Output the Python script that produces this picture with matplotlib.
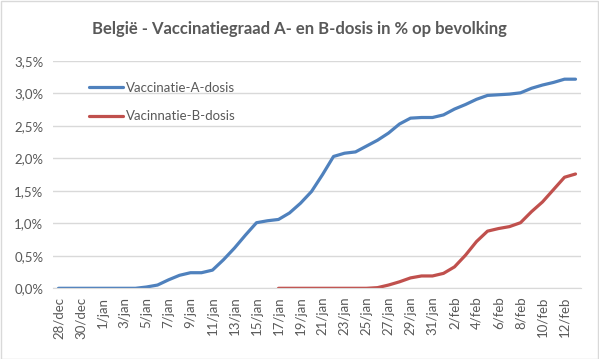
import numpy as np
import matplotlib.pyplot as plt
from matplotlib.patches import Rectangle

plt.rcParams['font.family'] = ['Lato', 'DejaVu Sans']

# Data: daily values from 28/dec to 13/feb (in % of population)
dagen = (['%d/dec' % d for d in range(28, 32)] +
         ['%d/jan' % d for d in range(1, 32)] +
         ['%d/feb' % d for d in range(1, 14)])

dosis_a = [0.00, 0.00, 0.00, 0.00, 0.00, 0.00, 0.00, 0.00,
           0.02, 0.05, 0.13, 0.20, 0.24, 0.24, 0.28, 0.44,
           0.62, 0.82, 1.01, 1.04, 1.06, 1.16, 1.31, 1.49,
           1.75, 2.03, 2.08, 2.10, 2.19, 2.28, 2.39, 2.53,
           2.62, 2.63, 2.63, 2.67, 2.76, 2.83, 2.91, 2.97,
           2.98, 2.99, 3.01, 3.08, 3.13, 3.17, 3.22, 3.22]

dosis_b = [np.nan] * 20 + [
           0.00, 0.00, 0.00, 0.00, 0.00, 0.00, 0.00, 0.00,
           0.00, 0.01, 0.05, 0.10, 0.16, 0.19, 0.19, 0.23,
           0.33, 0.51, 0.72, 0.88, 0.92, 0.95, 1.01, 1.18,
           1.33, 1.52, 1.71, 1.76]

grijs = '#595959'
x = np.arange(len(dagen))

fig = plt.figure(figsize=(5.99, 3.59), dpi=100)
fig.patches.append(Rectangle((0.001, 0.001), 0.997, 0.997, transform=fig.transFigure,
                             fill=False, edgecolor='#d9d9d9', lw=1))
ax = fig.add_axes([53 / 599, 1 - 288.3 / 359, 528 / 599, (288.3 - 61) / 359])

ax.plot(x, dosis_a, color='#4f81bd', lw=2.3, label='Vaccinatie-A-dosis', solid_capstyle='round')
ax.plot(x, dosis_b, color='#c0504d', lw=2.3, label='Vacinnatie-B-dosis', solid_capstyle='round')

ax.set_xlim(-0.5, len(dagen) - 0.5)
ax.set_ylim(0, 3.5)
ax.set_yticks(np.arange(0, 3.51, 0.5))
ax.set_yticklabels([('%.1f%%' % v).replace('.', ',') for v in np.arange(0, 3.51, 0.5)],
                   color=grijs, fontsize=9.5)
ax.set_xticks(x[::2])
ax.set_xticklabels(dagen[::2], rotation=90, color=grijs, fontsize=9.5)
ax.tick_params(length=0, pad=7)
ax.tick_params(axis='x', pad=6)
ax.grid(axis='y', color='#d9d9d9', lw=1)
ax.set_axisbelow(True)
for s in ['top', 'right', 'left']:
    ax.spines[s].set_visible(False)
ax.spines['bottom'].set_color('#d9d9d9')

leg = ax.legend(loc='upper left', bbox_to_anchor=(0.045, 0.96), frameon=False,
                handlelength=2.6, handletextpad=0.25, labelspacing=1.25, fontsize=9.5)
for t in leg.get_texts():
    t.set_color(grijs)

fig.text(0.5, 1 - 29 / 359, 'België - Vaccinatiegraad A- en B-dosis in % op bevolking',
         ha='center', va='center', fontsize=12, fontweight='bold', color=grijs)

fig.savefig('out.png', dpi=100)
